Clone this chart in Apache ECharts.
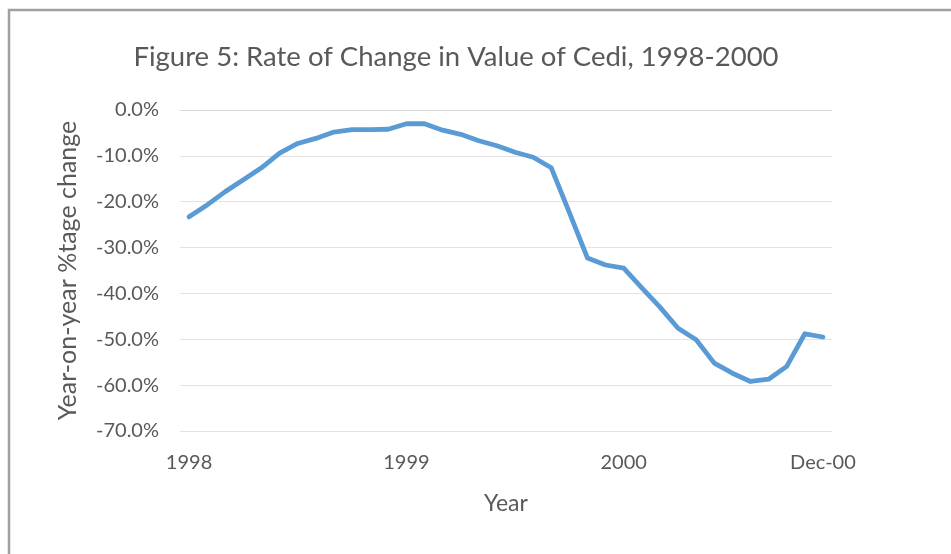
<!DOCTYPE html>
<html>
<head>
<meta charset="utf-8">
<script src="https://cdn.jsdelivr.net/npm/echarts@6/dist/echarts.min.js"></script>
<style>
  html, body { margin: 0; padding: 0; background: #ffffff; }
  #chart { width: 951px; height: 554px; }
</style>
</head>
<body>
<div id="chart"></div>
<script>
// Monthly categories, Jan 1998 – Dec 2000
const months = [
  'Jan-98','Feb-98','Mar-98','Apr-98','May-98','Jun-98','Jul-98','Aug-98','Sep-98','Oct-98','Nov-98','Dec-98',
  'Jan-99','Feb-99','Mar-99','Apr-99','May-99','Jun-99','Jul-99','Aug-99','Sep-99','Oct-99','Nov-99','Dec-99',
  'Jan-00','Feb-00','Mar-00','Apr-00','May-00','Jun-00','Jul-00','Aug-00','Sep-00','Oct-00','Nov-00','Dec-00'
];

// Year-on-year % change in the value of the cedi
const rateOfChange = [
  -23.3, -20.7, -17.8, -15.2, -12.6, -9.4, -7.3, -6.2, -4.8, -4.3, -4.3, -4.2,
  -3.0, -3.0, -4.4, -5.3, -6.7, -7.8, -9.2, -10.3, -12.6, -22.4, -32.3, -33.8,
  -34.5, -38.8, -43.0, -47.6, -50.1, -55.2, -57.4, -59.2, -58.7, -55.9, -48.8, -49.5
];

// Category positions that carry a label, and their text
const tickIndex = [0, 12, 24, 35];
const tickText = ['1998', '1999', '2000', 'Dec-00'];

// Value axis range (percent)
const yMin = -70;
const yMax = 0;
const yStep = 10;

const font = 'Lato, "Open Sans", sans-serif';
const labelGrey = '#595959';

const chart = echarts.init(document.getElementById('chart'), null, { renderer: 'canvas' });

chart.setOption({
  backgroundColor: '#ffffff',
  animation: false,
  title: {
    text: 'Figure 5: Rate of Change in Value of Cedi, 1998-2000',
    left: 451,
    top: 38,
    textAlign: 'center',
    textStyle: { fontFamily: font, fontSize: 27.5, fontWeight: 'normal', color: labelGrey }
  },
  graphic: [{
    type: 'rect',
    shape: { x: 9, y: 10, width: 1000, height: 700 },
    style: { fill: 'none', stroke: '#a0a0a0', lineWidth: 2.5 },
    silent: true
  }],
  grid: { left: 180, right: 119, top: 110, bottom: 123 },
  xAxis: {
    type: 'category',
    data: months,
    boundaryGap: true,
    name: 'Year',
    nameLocation: 'middle',
    nameGap: 61,
    nameTextStyle: { fontFamily: font, fontSize: 23, color: labelGrey },
    axisLine: { show: true, lineStyle: { color: '#d9d9d9', width: 1 } },
    axisTick: { show: false },
    axisLabel: {
      interval: (i) => tickIndex.indexOf(i) >= 0,
      formatter: (v, i) => tickText[tickIndex.indexOf(i)],
      fontFamily: font,
      fontSize: 20,
      color: labelGrey,
      margin: 22
    },
    splitLine: { show: false }
  },
  yAxis: {
    type: 'value',
    min: yMin,
    max: yMax,
    interval: yStep,
    name: 'Year-on-year %tage change',
    nameLocation: 'middle',
    nameGap: 100,
    nameRotate: 90,
    nameTextStyle: { fontFamily: font, fontSize: 25, color: labelGrey },
    axisLine: { show: false },
    axisTick: { show: false },
    axisLabel: {
      formatter: (v) => v.toFixed(1) + '%',
      fontFamily: font,
      fontSize: 20,
      color: labelGrey,
      margin: 21
    },
    splitLine: { show: true, lineStyle: { color: '#e3e3e3', width: 1 } }
  },
  series: [{
    type: 'line',
    data: rateOfChange,
    showSymbol: false,
    smooth: false,
    lineStyle: { color: '#5b9bd5', width: 4.8, cap: 'round', join: 'round' }
  }]
});
</script>
</body>
</html>
